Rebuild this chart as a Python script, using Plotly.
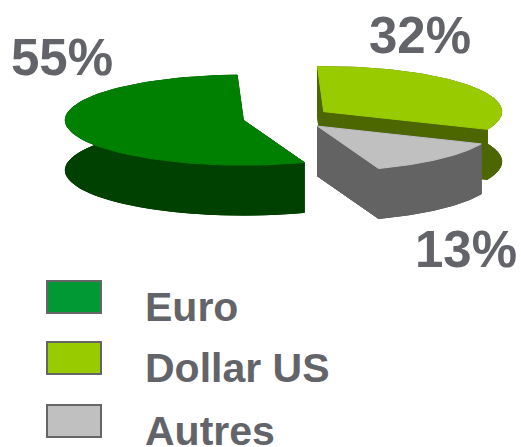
import math
import plotly.graph_objects as go

# ---- data ----
categories = ["Euro", "Dollar US", "Autres"]
shares = [55, 32, 13]
top_colors = ["#008000", "#99CC00", "#C0C0C0"]
side_colors = ["#004000", "#4C6600", "#636363"]
legend_colors = ["#009933", "#99CC00", "#C0C0C0"]

# ---- layout constants (3D pie geometry in pixels) ----
W, H = 521, 447
CX, CY = 287, 118
RX, RY = 178, 45
DEPTH = 50
PULL = 0.25
START = 290.0  # degrees, slices go clockwise
N = 80
TEXT = "#636469"
FONT = "Liberation Sans, Arial, sans-serif"

fig = go.Figure()


def pt(px, py, t):
    return px + RX * math.cos(t), py - RY * math.sin(t)


def poly(xs, ys, color):
    fig.add_trace(go.Scatter(x=xs + [xs[0]], y=ys + [ys[0]], mode="lines",
                             fill="toself", fillcolor=color,
                             line=dict(color=color, width=1),
                             hoverinfo="skip", showlegend=False))


total = sum(shares)
slices = []
a = START
for i, v in enumerate(shares):
    span = 360.0 * v / total
    a0, a1 = a, a - span
    mid = math.radians((a0 + a1) / 2)
    px = CX + PULL * RX * math.cos(mid)
    py = CY - PULL * RY * math.sin(mid)
    ts = [math.radians(a0 + (a1 - a0) * k / N) for k in range(N + 1)]
    slices.append((i, px, py, ts))
    a = a1

# draw back to front (by apex y)
for i, px, py, ts in sorted(slices, key=lambda s: s[2]):
    arc = [pt(px, py, t) for t in ts]
    ax = [p[0] for p in arc]
    ay = [p[1] for p in arc]
    sc = side_colors[i]
    # bottom face
    poly([px] + ax, [py + DEPTH] + [y + DEPTH for y in ay], sc)
    # outer wall
    poly(ax + ax[::-1], ay + [y + DEPTH for y in ay[::-1]], sc)
    # radial cut faces
    for k in (0, -1):
        poly([px, ax[k], ax[k], px], [py, ay[k], ay[k] + DEPTH, py + DEPTH], sc)
    # top face
    poly([px] + ax, [py] + ay, top_colors[i])

# percentage labels
label_pos = [(62, 57), (420, 35), (466, 249)]
for v, (lx, ly) in zip(shares, label_pos):
    fig.add_annotation(x=lx, y=ly, text=f"<b>{v}%</b>", showarrow=False,
                       xanchor="center", yanchor="middle",
                       font=dict(family=FONT, size=51, color=TEXT))

# legend
leg_y = [297, 358, 421]
for c, col, y in zip(categories, legend_colors, leg_y):
    fig.add_shape(type="rect", x0=47, x1=101, y0=y - 16, y1=y + 16,
                  fillcolor=col, line=dict(color="#666666", width=2))
    fig.add_annotation(x=143, y=y + 10, text=f"<b>{c}</b>", showarrow=False,
                       xanchor="left", yanchor="middle",
                       font=dict(family=FONT, size=41, color=TEXT))

fig.update_layout(width=W, height=H, margin=dict(l=0, r=0, t=0, b=0),
                  paper_bgcolor="white", plot_bgcolor="white",
                  xaxis=dict(range=[0, W], visible=False, fixedrange=True),
                  yaxis=dict(range=[H, 0], visible=False, fixedrange=True),
                  showlegend=False)
fig.write_html("out.html", config={"displayModeBar": False},
               post_script="document.body.style.margin='0';"
                           "document.body.style.overflow='hidden';")
